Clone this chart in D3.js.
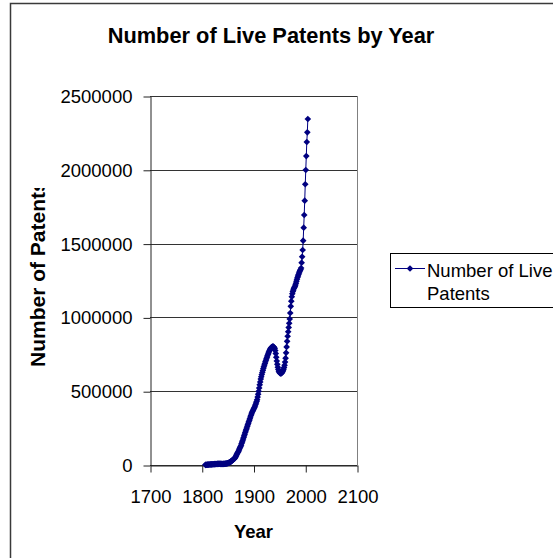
<!DOCTYPE html>
<html>
<head>
<meta charset="utf-8">
<script src="https://cdn.jsdelivr.net/npm/d3@7"></script>
<style>
  body { margin: 0; background: #fff; }
  text { font-family: Arial, "Liberation Sans", sans-serif; fill: #000; }
</style>
</head>
<body>
<div id="viz"></div>
<script>
const width = 553;
const height = 558;
const plot = {left: 150, right: 357, top: 96, bottom: 465};
const navy = '#000080';

// Data, one value per year starting at firstYear
const firstYear = 1807;
const livePatents = [
  1000, 1200, 1500, 1800, 2200, 2500, 2800, 3100, 3400, 3600, 3900, 4100, 4400,   // 1807-1819
  4600, 4800, 5000, 5300, 5500, 5800, 6100, 6400, 6700, 7000,                     // 1820s
  7300, 7600, 7900, 8200, 8500, 8800, 8000, 7500, 7200, 7000,                     // 1830s
  7100, 7300, 7500, 7800, 8100, 8500, 9000, 9600, 10300, 11200,                   // 1840s
  12200, 13400, 14800, 16500, 18800, 21000, 23000, 25000, 28000, 31000,           // 1850s
  34000, 37000, 40000, 43000, 47000, 53000, 60000, 67000, 74000, 81000,           // 1860s
  87000, 94000, 102000, 110000, 118000, 126000, 134000, 145000, 155000, 165000,   // 1870s
  176000, 187000, 198000, 209000, 220000, 230000, 241000, 251000, 262000, 272000, // 1880s
  283000, 293000, 304000, 314000, 325000, 335000, 345000, 354000, 362000, 370000, // 1890s
  378000, 385000, 392000, 400000, 410000, 420000, 431000, 442000, 460000, 480000, // 1900s
  500000, 522000, 543000, 563000, 582000, 598000, 613000, 627000, 640000, 653000, // 1910s
  665000, 677000, 688000, 699000, 710000, 720000, 730000, 740000, 750000, 759000, // 1920s
  768000, 776000, 783000, 789000, 794000, 798000, 801000, 802000, 802000, 800000, // 1930s
  796000, 789000, 775000, 755000, 730000, 705000, 682000, 662000, 647000, 636000, // 1940s
  628000, 623000, 620000, 620000, 622000, 626000, 631000, 638000, 648000, 660000, // 1950s
  676000, 697000, 724000, 760000, 800000, 838000, 872000, 903000, 932000, 960000, // 1960s
  990000, 1030000, 1075000, 1110000, 1140000, 1160000, 1175000, 1185000, 1195000, 1203000, // 1970s
  1210000, 1220000, 1232000, 1245000, 1258000, 1270000, 1280000, 1290000, 1300000, 1310000, // 1980s
  1318000, 1325000, 1335000, 1371000, 1411000, 1457000, 1520000, 1608000, 1694000, 1791000, // 1990s
  1902000, 1999000, 2093000, 2188000, 2254000, 2344000                             // 2000-2005
];
const xTicks = [1700, 1800, 1900, 2000, 2100];
const yTicks = [0, 500000, 1000000, 1500000, 2000000, 2500000];

const data = livePatents.map((v, i) => ({year: firstYear + i, value: v}));

const svg = d3.select('#viz')
  .append('svg')
  .attr('width', width)
  .attr('height', height);

// Chart area border (runs off the right and bottom of the picture)
svg.append('rect')
  .attr('x', 10.5)
  .attr('y', 3.5)
  .attr('width', 700)
  .attr('height', 700)
  .attr('fill', '#fff')
  .attr('stroke', '#3a3a3a')
  .attr('stroke-width', 1.5);

const xScale = d3.scaleLinear()
  .domain([1700, 2100])
  .range([plot.left, plot.right]);

const yScale = d3.scaleLinear()
  .domain([0, 2500000])
  .range([plot.bottom, plot.top]);

// Gridlines
svg.append('g')
  .selectAll('line')
  .data(yTicks)
  .join('line')
    .attr('x1', plot.left)
    .attr('x2', plot.right)
    .attr('y1', d => Math.round(yScale(d)) + 0.5)
    .attr('y2', d => Math.round(yScale(d)) + 0.5)
    .attr('stroke', '#333')
    .attr('stroke-width', 1);

// Plot area right edge
svg.append('line')
  .attr('x1', plot.right + 0.5)
  .attr('x2', plot.right + 0.5)
  .attr('y1', plot.top)
  .attr('y2', plot.bottom)
  .attr('stroke', '#808080');

// Axes
const yAxis = svg.append('g')
  .attr('transform', `translate(${plot.left + 0.5}, 0.5)`)
  .call(d3.axisLeft(yScale)
    .tickValues(yTicks)
    .tickFormat(d3.format('d'))
    .tickSize(7)
    .tickSizeOuter(0)
    .tickPadding(11));

const xAxis = svg.append('g')
  .attr('transform', `translate(0.5, ${plot.bottom + 0.5})`)
  .call(d3.axisBottom(xScale)
    .tickValues(xTicks)
    .tickFormat(d3.format('d'))
    .tickSize(7)
    .tickSizeOuter(0)
    .tickPadding(17));

[yAxis, xAxis].forEach(ax => {
  ax.select('.domain').attr('stroke', '#222');
  ax.selectAll('.tick line').attr('stroke', '#222');
  ax.selectAll('.tick text')
    .attr('font-family', 'Arial, "Liberation Sans", sans-serif')
    .attr('font-size', 18.5)
    .attr('fill', '#000');
});

// Series line and diamond markers
const line = d3.line()
  .x(d => xScale(d.year))
  .y(d => yScale(d.value));

svg.append('path')
  .datum(data)
  .attr('d', line)
  .attr('fill', 'none')
  .attr('stroke', navy)
  .attr('stroke-width', 1);

const diamond = d3.symbol().type(d3.symbolSquare).size(22);

svg.append('g')
  .selectAll('path')
  .data(data)
  .join('path')
    .attr('d', diamond)
    .attr('transform', d => `translate(${xScale(d.year)},${yScale(d.value)}) rotate(45)`)
    .attr('fill', navy);

// Title
svg.append('text')
  .attr('x', 271)
  .attr('y', 43)
  .attr('text-anchor', 'middle')
  .attr('font-weight', 'bold')
  .attr('font-size', 21.8)
  .text('Number of Live Patents by Year');

// Axis titles
svg.append('text')
  .attr('x', (plot.left + plot.right) / 2)
  .attr('y', 538)
  .attr('text-anchor', 'middle')
  .attr('font-weight', 'bold')
  .attr('font-size', 18.5)
  .text('Year');

svg.append('clipPath')
  .attr('id', 'ytitle-clip')
  .append('rect')
    .attr('x', 0)
    .attr('y', 188)
    .attr('width', 140)
    .attr('height', 300);

svg.append('g')
  .attr('clip-path', 'url(#ytitle-clip)')
  .append('text')
    .attr('transform', 'translate(45, 367) rotate(-90)')
    .attr('text-anchor', 'start')
    .attr('font-weight', 'bold')
    .attr('font-size', 21)
    .text('Number of Patents');

// Legend
const legend = svg.append('g');

legend.append('rect')
  .attr('x', 390.5)
  .attr('y', 253.5)
  .attr('width', 200)
  .attr('height', 54)
  .attr('fill', '#fff')
  .attr('stroke', '#000');

legend.append('line')
  .attr('x1', 395)
  .attr('x2', 425)
  .attr('y1', 268.5)
  .attr('y2', 268.5)
  .attr('stroke', navy);

legend.append('path')
  .attr('d', diamond)
  .attr('transform', 'translate(410,268.5) rotate(45)')
  .attr('fill', navy);

legend.append('text')
  .attr('x', 427)
  .attr('y', 277)
  .attr('font-size', 18.5)
  .text('Number of Live');

legend.append('text')
  .attr('x', 427)
  .attr('y', 300)
  .attr('font-size', 18.5)
  .text('Patents');
</script>
</body>
</html>
